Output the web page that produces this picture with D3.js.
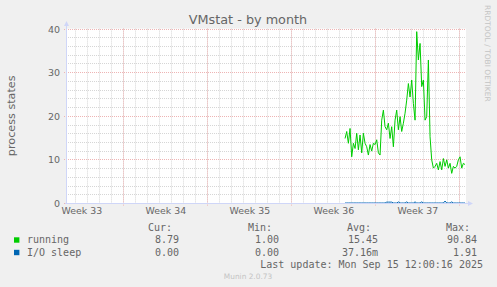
<!DOCTYPE html>
<meta charset="utf-8">
<script src="https://d3js.org/d3.v7.min.js"></script>
<style>
  body { margin: 0; background: #f0f0f0; }
  svg text { fill: #666666; }
</style>

<div id="my_dataviz"></div>

<script>

// series, one sample every stepMinutes from firstSample
var running = [14.8, 16.4, 13.7, 17.1, 10.6, 13.7, 12.5, 16.0, 12.2, 15.6,
               11.5, 16.0, 13.7, 12.9, 11.0, 13.4, 11.9, 13.7, 13.4, 14.5,
               11.5, 11.0, 19.0, 21.3, 17.5, 16.8, 18.3, 14.8, 17.5, 12.9,
               19.0, 21.3, 16.8, 19.8, 16.4, 18.3, 20.6, 23.6, 27.4, 24.3,
               28.2, 22.8, 19.0, 39.3, 32.8, 36.6, 26.7, 28.2, 19.0, 19.8,
               32.8, 15.2, 9.9, 8.0, 8.4, 9.1, 7.6, 9.5, 7.6, 10.2,
               8.4, 9.9, 8.0, 9.1, 6.8, 8.4, 8.0, 8.4, 9.9, 10.6,
               8.0, 9.1, 8.8];
var ioSleep = [0, 0, 0, 0, 0, 0, 0, 0, 0, 0,
               0, 0, 0, 0, 0, 0, 0, 0, 0, 0,
               0, 0, 0, 0, 0, 0.2, 0.2, 0.2, 0.2, 0,
               0, 0, 0.25, 0, 0, 0, 0, 0.25, 0, 0,
               0, 0, 0.25, 0, 0, 0, 0.25, 0, 0, 0,
               0, 0, 0, 0, 0, 0, 0, 0, 0, 0,
               0.45, 0, 0, 0, 0.25, 0, 0, 0, 0, 0,
               0, 0, 0];
var firstSample = Date.UTC(2025, 8, 5, 11, 30);
var stepMinutes = 200;

// time window of the graph
var timeStart = Date.UTC(2025, 7, 13, 5, 24);
var timeEnd = Date.UTC(2025, 8, 15, 13, 24);

var yTicks = [0, 10, 20, 30, 40];
var seriesNames = ["running", "I/O sleep"];
var seriesColors = ["#00cc00", "#0066b3"];
var legendHeaders = ["Cur:", "Min:", "Avg:", "Max:"];
var runningStats = ["8.79", "1.00", "15.45", "90.84"];
var ioSleepStats = ["0.00", "0.00", "37.16m", "1.91"];
var lastUpdate = "Last update: Mon Sep 15 12:00:16 2025";

// dimensions
var W = 497, H = 287;
var pLeft = 66, pRight = 466, pTop = 28.6, pBottom = 203;

var svg = d3.select("#my_dataviz")
  .append("svg")
    .attr("width", W)
    .attr("height", H)
    .style("display", "block");

svg.append("rect").attr("width", W).attr("height", H).attr("fill", "#f0f0f0");

var x = d3.scaleUtc()
  .domain([new Date(timeStart), new Date(timeEnd)])
  .range([pLeft, pRight]);

var y = d3.scaleLinear()
  .domain([0, 40])
  .range([pBottom, pTop]);

function crisp(v) { return Math.round(v) + 0.5; }

// canvas
svg.append("rect")
  .attr("x", pLeft).attr("y", pTop)
  .attr("width", pRight - pLeft).attr("height", pBottom - pTop)
  .attr("fill", "#ffffff");

// minor grid
var minorY = d3.range(0, 41, 2).filter(function(d) { return d % 10 != 0; });
var days = d3.utcDay.range(new Date(timeStart), new Date(timeEnd));
var mondays = d3.utcMonday.range(new Date(timeStart), new Date(timeEnd));
var grid = svg.append("g").attr("stroke-dasharray", "1,1").attr("fill", "none");

grid.selectAll(".hmin").data(minorY).enter().append("line")
  .attr("x1", pLeft).attr("x2", pRight)
  .attr("y1", function(d) { return crisp(y(d)); })
  .attr("y2", function(d) { return crisp(y(d)); })
  .attr("stroke", "#d6d6d6");

grid.selectAll(".vmin").data(days).enter().append("line")
  .attr("y1", pTop).attr("y2", pBottom)
  .attr("x1", function(d) { return crisp(x(d)); })
  .attr("x2", function(d) { return crisp(x(d)); })
  .attr("stroke", "#d6d6d6");

// major grid
grid.selectAll(".hmaj").data(yTicks).enter().append("line")
  .attr("x1", pLeft - 2).attr("x2", pRight)
  .attr("y1", function(d) { return crisp(y(d)); })
  .attr("y2", function(d) { return crisp(y(d)); })
  .attr("stroke", "#eeb4b4");

grid.selectAll(".vmaj").data(mondays).enter().append("line")
  .attr("y1", pTop).attr("y2", pBottom + 3)
  .attr("x1", function(d) { return crisp(x(d)); })
  .attr("x2", function(d) { return crisp(x(d)); })
  .attr("stroke", "#eeb4b4");

// y axis labels
svg.append("g")
  .attr("transform", "translate(" + (pLeft - 6) + ",0)")
  .call(d3.axisLeft(y).tickValues(yTicks).tickSize(0).tickPadding(0))
  .call(function(g) { g.select(".domain").remove(); })
  .selectAll("text")
    .attr("font-family", "DejaVu Sans")
    .attr("font-size", "9.5px")
    .attr("dy", "0.36em");

// x axis labels, centred on each week
var weekMid = d3.utcMonday.range(d3.utcMonday.floor(new Date(timeStart)), new Date(timeEnd))
  .map(function(d) { return d3.utcHour.offset(d, 84); })
  .filter(function(d) { return +d < timeEnd; });
svg.append("g")
  .attr("transform", "translate(0," + (pBottom + 4) + ")")
  .call(d3.axisBottom(x).tickValues(weekMid).tickSize(0).tickPadding(0)
    .tickFormat(d3.utcFormat("Week %V")))
  .call(function(g) { g.select(".domain").remove(); })
  .selectAll("text")
    .attr("font-family", "DejaVu Sans")
    .attr("font-size", "9.4px")
    .attr("dy", "0.72em");

// series lines
var line = d3.line()
  .x(function(d, i) { return x(new Date(firstSample + i * stepMinutes * 60000)); })
  .y(function(d) { return y(d); });

svg.append("path").datum(running)
  .attr("fill", "none").attr("stroke", seriesColors[0]).attr("stroke-width", 1)
  .attr("d", line);

svg.append("path").datum(ioSleep)
  .attr("fill", "none").attr("stroke", seriesColors[1]).attr("stroke-width", 1)
  .attr("d", line);

// axes and arrows
var axisColor = "#cfd6f8";
svg.append("line")
  .attr("x1", pLeft + 0.5).attr("x2", pLeft + 0.5)
  .attr("y1", pBottom + 1).attr("y2", pTop - 4)
  .attr("stroke", axisColor);
svg.append("line")
  .attr("x1", pLeft - 1).attr("x2", pRight + 2)
  .attr("y1", pBottom + 0.5).attr("y2", pBottom + 0.5)
  .attr("stroke", axisColor);
svg.append("path")
  .attr("d", "M" + (pLeft - 2) + "," + (pTop - 2.5) + "L" + (pLeft + 3) + "," + (pTop - 2.5) +
             "L" + (pLeft + 0.5) + "," + (pTop - 7.5) + "Z")
  .attr("fill", axisColor);
svg.append("path")
  .attr("d", "M" + (pRight + 2) + "," + (pBottom - 2) + "L" + (pRight + 2) + "," + (pBottom + 3) +
             "L" + (pRight + 7) + "," + (pBottom + 0.5) + "Z")
  .attr("fill", axisColor);

// title
svg.append("text")
  .attr("x", 248).attr("y", 24)
  .attr("text-anchor", "middle")
  .attr("font-family", "DejaVu Sans")
  .attr("font-size", "12.8px")
  .text("VMstat - by month");

// vertical label
svg.append("text")
  .attr("transform", "translate(15," + ((pTop + pBottom) / 2) + ") rotate(-90)")
  .attr("text-anchor", "middle")
  .attr("font-family", "DejaVu Sans")
  .attr("font-size", "11.2px")
  .text("process states");

// watermark on the right
svg.append("text")
  .attr("transform", "translate(485,5) rotate(90)")
  .attr("font-family", "DejaVu Sans")
  .attr("font-size", "7.5px")
  .style("fill", "#c4c4c4")
  .text("RRDTOOL / TOBI OETIKER");

// legend
var mono = "DejaVu Sans Mono";
var colRight = [179, 279, 378, 477];
var leg = svg.append("g").attr("font-family", mono).attr("font-size", "10px");

leg.selectAll(".hdr").data(legendHeaders).enter().append("text")
  .attr("x", function(d, i) { return colRight[i] - 7; })
  .attr("y", 230.5)
  .attr("text-anchor", "end")
  .text(function(d) { return d; });

var rows = [runningStats, ioSleepStats];
rows.forEach(function(stats, r) {
  var yy = 243 + r * 12.5;
  leg.append("rect")
    .attr("x", 14).attr("y", yy - 5.7)
    .attr("width", 5.4).attr("height", 5.4)
    .attr("fill", seriesColors[r]);
  leg.append("text")
    .attr("x", 27).attr("y", yy)
    .text(seriesNames[r]);
  leg.selectAll(".v" + r).data(stats).enter().append("text")
    .attr("x", function(d, i) { return colRight[i]; })
    .attr("y", yy)
    .attr("text-anchor", "end")
    .text(function(d) { return d; });
});

leg.append("text")
  .attr("x", 483).attr("y", 267.5)
  .attr("text-anchor", "end")
  .text(lastUpdate);

svg.append("text")
  .attr("x", 248).attr("y", 279)
  .attr("text-anchor", "middle")
  .attr("font-family", "DejaVu Sans")
  .attr("font-size", "7.4px")
  .style("fill", "#c4c4c4")
  .text("Munin 2.0.73");

</script>
